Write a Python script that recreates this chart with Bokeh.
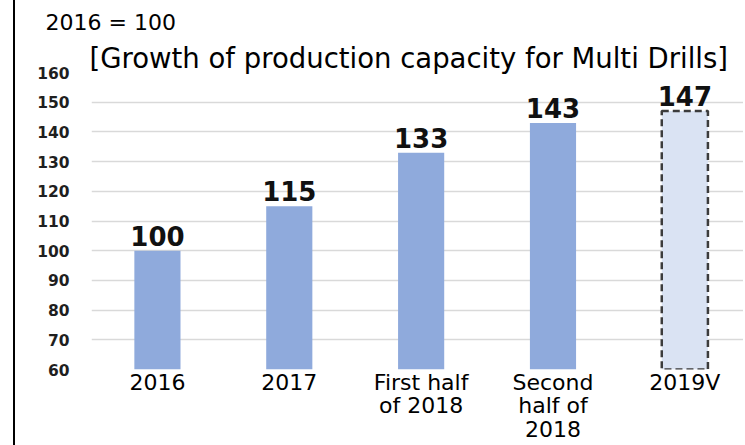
from bokeh.plotting import figure
from bokeh.models import ColumnDataSource, Title, FixedTicker
from bokeh.embed import file_html
from bokeh.resources import INLINE
from bokeh.core.properties import value

# ---- data ----
categories = ["2016", "2017", "First half\nof 2018", "Second\nhalf of\n2018", "2019V"]
values = [100, 115, 133, 143, 147]
is_plan = [False, False, False, False, True]
y_ticks = [60, 70, 80, 90, 100, 110, 120, 130, 140, 150, 160]
base_note = "2016 = 100"
title_text = "[Growth of production capacity for Multi Drills]"

FONT = "DejaVu Sans"
xs = list(range(len(categories)))

act_src = ColumnDataSource(dict(
    x=[x for x, f in zip(xs, is_plan) if not f],
    top=[v for v, f in zip(values, is_plan) if not f],
))
plan_src = ColumnDataSource(dict(
    x=[x for x, f in zip(xs, is_plan) if f],
    top=[v for v, f in zip(values, is_plan) if f],
))
lab_src = ColumnDataSource(dict(x=xs, y=values, t=[str(v) for v in values]))

p = figure(width=730, height=445, x_range=(-0.5, 4.46), y_range=(y_ticks[0], y_ticks[-1]),
           output_backend="svg", toolbar_location=None, title=None,
           min_border_left=76, min_border_right=0, min_border_top=72, min_border_bottom=74)
p.styles = {"margin-left": "13px", "border-left": "2px solid #000000"}
p.outline_line_color = None
p.background_fill_color = "white"
p.border_fill_color = "white"

p.vbar(x="x", top="top", bottom=y_ticks[0], width=0.35, source=act_src,
       fill_color="#8FAADC", line_color=None)
p.vbar(x="x", top="top", bottom=y_ticks[0], width=0.35, source=plan_src,
       fill_color="#DAE3F3", line_color="#3C3C3C", line_width=2.5, line_dash="7 4")

p.text(x="x", y="y", text="t", source=lab_src, text_align="center", text_baseline="alphabetic",
       y_offset=-15, text_font=value(FONT), text_font_style="bold", text_font_size="26px",
       text_color="#111111")

# axes
p.xaxis.ticker = FixedTicker(ticks=xs)
p.xaxis.major_label_overrides = {i: c for i, c in enumerate(categories)}
p.xaxis.axis_line_color = None
p.xaxis.major_tick_line_color = None
p.xaxis.minor_tick_line_color = None
p.xaxis.major_tick_out = 0
p.xaxis.major_tick_in = 0
p.xaxis.major_label_standoff = 0
p.xaxis.major_label_text_font = FONT
p.xaxis.major_label_text_font_size = "22px"
p.xaxis.major_label_text_color = "#000000"
p.xaxis.major_label_text_line_height = 0.95

p.yaxis.ticker = FixedTicker(ticks=y_ticks)
p.yaxis.axis_line_color = None
p.yaxis.major_tick_line_color = None
p.yaxis.minor_tick_line_color = None
p.yaxis.major_tick_out = 0
p.yaxis.major_tick_in = 0
p.yaxis.major_label_standoff = 22
p.yaxis.major_label_text_font = FONT
p.yaxis.major_label_text_font_style = "bold"
p.yaxis.major_label_text_font_size = "15.5px"
p.yaxis.major_label_text_color = "#1f1f1f"

p.xgrid.grid_line_color = None
p.ygrid.grid_line_color = "#D9D9D9"
p.ygrid.grid_line_width = 1.5

p.add_layout(Title(text=title_text, align="left", offset=-2, standoff=-2,
                   text_font=FONT, text_font_size="27.5px", text_font_style="normal",
                   text_color="#000000"), "above")
p.add_layout(Title(text=base_note, align="left", offset=-46, standoff=12,
                   text_font=FONT, text_font_size="22px", text_font_style="normal",
                   text_color="#000000"), "above")

open("out.html", "w").write(file_html(p, INLINE))
